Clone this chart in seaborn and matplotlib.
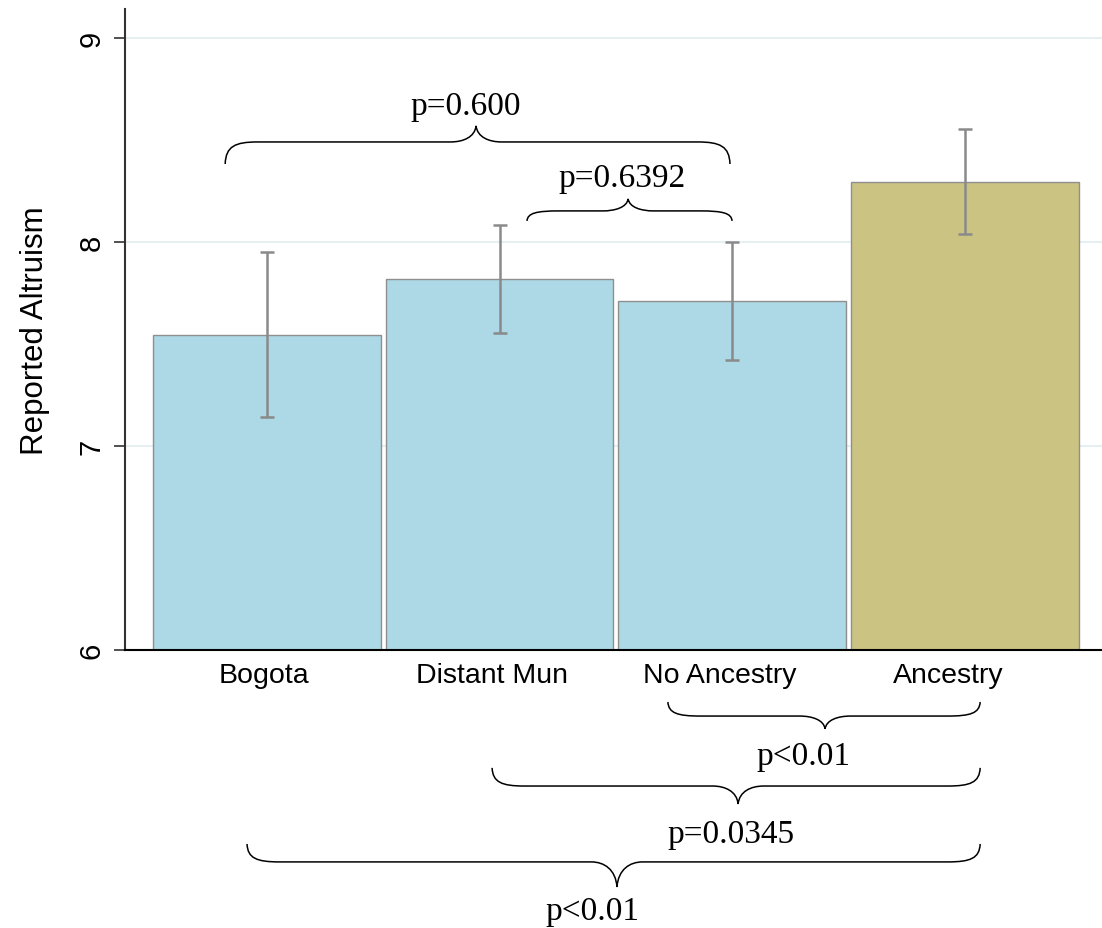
import numpy as np
import pandas as pd
import matplotlib
matplotlib.use("Agg")
import matplotlib.pyplot as plt
import matplotlib.transforms as mtransforms
from matplotlib.path import Path
from matplotlib.patches import PathPatch
import seaborn as sns

# Datos del grafico
groups = ["Bogota", "Distant Mun", "No Ancestry", "Ancestry"]
altruism = [7.545, 7.82, 7.71, 8.295]
ci_low = [7.14, 7.555, 7.42, 8.04]
ci_high = [7.95, 8.085, 8.00, 8.555]
bar_colors = ["#add8e6", "#add8e6", "#add8e6", "#cbc382"]

# Comparaciones (grupo izquierdo, grupo derecho, etiqueta)
comparisons = [
    ("Bogota", "No Ancestry", "p=0.600"),
    ("Distant Mun", "No Ancestry", "p=0.6392"),
    ("No Ancestry", "Ancestry", "p<0.01"),
    ("Distant Mun", "Ancestry", "p=0.0345"),
    ("Bogota", "Ancestry", "p<0.01"),
]

df = pd.DataFrame({"group": groups, "altruism": altruism})

sns.set_style("white")
plt.rcParams["font.family"] = ["Liberation Sans", "DejaVu Sans"]
plt.rcParams["text.color"] = "black"
plt.rcParams["axes.labelcolor"] = "black"

fig = plt.figure(figsize=(11.02, 9.29), dpi=100)
ax = fig.add_axes([0.1134, 0.2993, 0.8866, 0.690])

sns.barplot(data=df, x="group", y="altruism", hue="group", palette=bar_colors,
            order=groups, hue_order=groups, legend=False, errorbar=None,
            saturation=1, width=0.98, edgecolor="#8f8f8f", linewidth=1,
            ax=ax, zorder=2)

# Barras de error
pos = np.arange(len(groups))
vals = np.array(altruism)
err = [vals - np.array(ci_low), np.array(ci_high) - vals]
ax.errorbar(pos, vals, yerr=err, fmt="none", ecolor="#8a8a8a",
            elinewidth=1.8, capsize=5.2, capthick=1.8, zorder=3)

ax.set_ylim(6, 9.142)
ax.set_xlim(-0.611, 3.591)
ax.set_yticks([6, 7, 8, 9])
ax.yaxis.grid(True, color="#e6eff1", linewidth=1.5, zorder=0)
ax.set_axisbelow(True)
ax.tick_params(axis="y", direction="out", length=8, width=1.2, labelsize=21,
               labelrotation=90, pad=6, color="#333333", labelcolor="black",
               left=True)
for lbl in ax.get_yticklabels():
    lbl.set_va("center")
ax.tick_params(axis="x", length=0, labelsize=20.5, pad=9, labelcolor="black")

# las etiquetas del eje x quedan un poco a la izquierda en el original
for i, lbl in enumerate(ax.get_xticklabels()):
    shift = mtransforms.ScaledTranslation(-0.045 * i - 0.03, 0, fig.dpi_scale_trans)
    lbl.set_transform(lbl.get_transform() + shift)

ax.set_xlabel("")
ax.set_ylabel("Reported Altruism", fontsize=22.5, labelpad=20)
for s in ["top", "right"]:
    ax.spines[s].set_visible(False)
ax.spines["left"].set_color("#333333")
ax.spines["left"].set_linewidth(1.5)
ax.spines["bottom"].set_color("black")
ax.spines["bottom"].set_linewidth(1.5)


def brace(ax, x0, x1, xm, yb, yf, yt, de=0.14, dm=0.11):
    verts = [
        (x0, yb), (x0 + 0.02 * de, yb + 0.8 * (yf - yb)), (x0 + 0.3 * de, yf), (x0 + de, yf),
        (xm - dm, yf),
        (xm - 0.5 * dm, yf), (xm - 0.05 * dm, yf + 0.3 * (yt - yf)), (xm, yt),
        (xm + 0.05 * dm, yf + 0.3 * (yt - yf)), (xm + 0.5 * dm, yf), (xm + dm, yf),
        (x1 - de, yf),
        (x1 - 0.3 * de, yf), (x1 - 0.02 * de, yb + 0.8 * (yf - yb)), (x1, yb),
    ]
    codes = [Path.MOVETO, Path.CURVE4, Path.CURVE4, Path.CURVE4, Path.LINETO,
             Path.CURVE4, Path.CURVE4, Path.CURVE4,
             Path.CURVE4, Path.CURVE4, Path.CURVE4, Path.LINETO,
             Path.CURVE4, Path.CURVE4, Path.CURVE4]
    ax.add_patch(PathPatch(Path(verts, codes), fill=False, edgecolor="black",
                           linewidth=1.1, clip_on=False, zorder=4))


# posiciones de llaves y textos: (x0, x1, xm, y_ext, y_plano, y_punta, x_texto, y_texto)
brace_layout = [
    (-0.180, 1.991, 0.899, 8.382, 8.490, 8.569, 0.856, 8.628),
    (1.118, 2.000, 1.553, 8.103, 8.152, 8.211, 1.527, 8.275),
    (1.724, 3.067, 2.400, 5.745, 5.676, 5.613, 2.305, 5.441),
    (0.968, 3.067, 2.026, 5.422, 5.333, 5.245, 1.996, 5.059),
    (-0.086, 3.067, 1.505, 5.049, 4.961, 4.838, 1.398, 4.681),
]
for (g0, g1, label), (x0, x1, xm, yb, yf, yt, tx, ty) in zip(comparisons, brace_layout):
    brace(ax, x0, x1, xm, yb, yf, yt)
    ax.text(tx, ty, label, ha="center", va="baseline", fontsize=24,
            family=["Liberation Serif", "DejaVu Serif"], clip_on=False)

fig.savefig("out.png", dpi=100)
